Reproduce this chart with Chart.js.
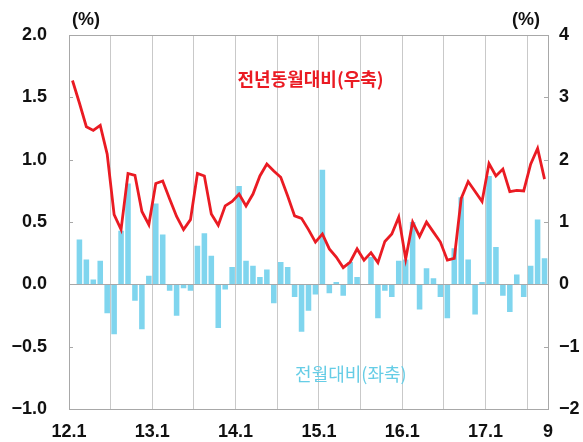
<!DOCTYPE html>
<html>
<head>
<meta charset="utf-8">
<script src="https://cdn.jsdelivr.net/npm/chart.js@4.4.1/dist/chart.umd.min.js"></script>
<style>
    body { margin: 0; background: #fff; }
    #wrap { position: relative; width: 583px; height: 442px; }
</style>
</head>
<body>
<div id="wrap"><canvas id="graphCanvas"></canvas></div>
<script>
var months = [
    '12.1', '12.2', '12.3', '12.4', '12.5', '12.6', '12.7', '12.8', '12.9', '12.10', '12.11', '12.12',
    '13.1', '13.2', '13.3', '13.4', '13.5', '13.6', '13.7', '13.8', '13.9', '13.10', '13.11', '13.12',
    '14.1', '14.2', '14.3', '14.4', '14.5', '14.6', '14.7', '14.8', '14.9', '14.10', '14.11', '14.12',
    '15.1', '15.2', '15.3', '15.4', '15.5', '15.6', '15.7', '15.8', '15.9', '15.10', '15.11', '15.12',
    '16.1', '16.2', '16.3', '16.4', '16.5', '16.6', '16.7', '16.8', '16.9', '16.10', '16.11', '16.12',
    '17.1', '17.2', '17.3', '17.4', '17.5', '17.6', '17.7', '17.8', '17.9'
];

// 전월대비 (좌축, %)
var momChange = [
    0.00, 0.36, 0.20, 0.04, 0.19, -0.23, -0.40, 0.43, 0.81, -0.13, -0.36, 0.07,
    0.65, 0.40, -0.05, -0.25, -0.03, -0.05, 0.31, 0.41, 0.23, -0.35, -0.04, 0.14,
    0.79, 0.19, 0.15, 0.06, 0.12, -0.15, 0.18, 0.14, -0.10, -0.38, -0.21, -0.08,
    0.92, -0.07, 0.02, -0.09, 0.18, 0.06, 0.00, 0.22, -0.27, -0.05, -0.10, 0.19,
    0.20, 0.50, -0.20, 0.13, 0.05, -0.10, -0.27, 0.29, 0.70, 0.20, -0.24, 0.02,
    0.87, 0.30, -0.09, -0.22, 0.08, -0.10, 0.15, 0.52, 0.21
];

// 전년동월대비 (우축, %)
var yoyChange = [
    3.27, 2.91, 2.53, 2.47, 2.55, 2.09, 1.12, 0.88, 1.78, 1.75, 1.17, 0.96,
    1.62, 1.66, 1.37, 1.09, 0.88, 1.04, 1.78, 1.74, 1.13, 0.95, 1.26, 1.33,
    1.45, 1.26, 1.45, 1.74, 1.93, 1.82, 1.72, 1.42, 1.10, 1.06, 0.88, 0.68,
    0.81, 0.57, 0.44, 0.27, 0.36, 0.57, 0.39, 0.51, 0.35, 0.69, 0.81, 1.08,
    0.41, 1.00, 0.77, 1.00, 0.84, 0.68, 0.39, 0.42, 1.38, 1.65, 1.49, 1.33,
    1.94, 1.74, 1.85, 1.49, 1.51, 1.50, 1.93, 2.18, 1.69
];

var xTickPos = [0, 12, 24, 36, 48, 60, 69];
var xTickText = ['12.1', '13.1', '14.1', '15.1', '16.1', '17.1', '9'];

var gridGray = '#c9c9c9';
var axisGray = '#a8a8a8';
var tickFont = { family: '"Liberation Sans", Arial, sans-serif', size: 18, weight: 'bold' };

function fmtMinus(s) {
    return String(s).replace('-', '\u2212');
}

var textPlugin = {
    id: 'chartTexts',
    afterDraw: function (chart) {
        var ctx = chart.ctx;
        var area = chart.chartArea;
        var x = chart.scales.x;
        var y = chart.scales.y;
        var y1 = chart.scales.y1;
        ctx.save();

        // small inner tick marks on both value axes
        ctx.strokeStyle = axisGray;
        ctx.lineWidth = 1;
        ctx.beginPath();
        y.ticks.forEach(function (t) {
            var py = Math.round(y.getPixelForValue(t.value)) + 0.5;
            ctx.moveTo(area.left, py);
            ctx.lineTo(area.left + 4, py);
        });
        y1.ticks.forEach(function (t) {
            var py = Math.round(y1.getPixelForValue(t.value)) + 0.5;
            ctx.moveTo(area.right, py);
            ctx.lineTo(area.right - 4, py);
        });
        ctx.stroke();

        ctx.textBaseline = 'middle';
        ctx.fillStyle = '#111';
        ctx.font = 'bold 18px "Liberation Sans", Arial, sans-serif';
        ctx.textAlign = 'left';
        ctx.fillText('(%)', area.left + 3, 20);
        ctx.textAlign = 'right';
        ctx.fillText('(%)', area.right - 8, 20);

        ctx.textAlign = 'center';
        ctx.font = 'bold 18px "Noto Sans CJK KR", sans-serif';
        ctx.fillStyle = '#ea1b23';
        ctx.fillText('전년동월대비(우축)', x.getPixelForValue(34.3), y1.getPixelForValue(3.3));
        ctx.font = '18px "Noto Sans CJK KR", sans-serif';
        ctx.fillStyle = '#66cde6';
        ctx.fillText('전월대비(좌축)', x.getPixelForValue(40.1), y.getPixelForValue(-0.72));
        ctx.restore();
    }
};

function showGraph() {
    var graphTarget = document.getElementById('graphCanvas');

    var chartdata = {
        labels: months,
        datasets: [
            {
                type: 'line',
                label: '전년동월대비(우축)',
                data: yoyChange,
                yAxisID: 'y1',
                borderColor: '#ea1b23',
                borderWidth: 2.8,
                pointRadius: 0,
                tension: 0,
                fill: false
            },
            {
                type: 'bar',
                label: '전월대비(좌축)',
                data: momChange,
                yAxisID: 'y',
                backgroundColor: '#7fd5ee',
                borderWidth: 0,
                barPercentage: 0.8,
                categoryPercentage: 1.0
            }
        ]
    };

    new Chart(graphTarget, {
        type: 'bar',
        data: chartdata,
        plugins: [textPlugin],
        options: {
            responsive: true,
            maintainAspectRatio: false,
            animation: false,
            layout: { padding: { top: 35, left: 0, right: 0, bottom: 0 } },
            plugins: {
                legend: { display: false },
                tooltip: { enabled: false }
            },
            scales: {
                x: {
                    type: 'category',
                    offset: true,
                    border: { display: true, color: axisGray },
                    grid: {
                        offset: true,
                        drawTicks: false,
                        color: function (c) {
                            return c.index % 6 === 0 ? gridGray : 'rgba(0,0,0,0)';
                        }
                    },
                    ticks: { display: false, autoSkip: false },
                    afterFit: function (s) { s.height = 0; }
                },
                x2: {
                    type: 'linear',
                    position: 'bottom',
                    offset: false,
                    min: 0,
                    max: 69,
                    border: { display: false },
                    grid: { display: false, drawTicks: false, offset: false },
                    afterBuildTicks: function (s) {
                        s.ticks = xTickPos.map(function (v) { return { value: v }; });
                    },
                    ticks: {
                        autoSkip: false,
                        maxRotation: 0,
                        padding: 12,
                        color: '#111',
                        font: tickFont,
                        callback: function (v) {
                            return xTickText[xTickPos.indexOf(v)];
                        }
                    },
                    afterFit: function (s) { s.height = 30.5; }
                },
                y: {
                    position: 'left',
                    min: -1,
                    max: 2,
                    border: { display: true, color: axisGray },
                    grid: {
                        drawTicks: false,
                        color: function (c) {
                            var v = c.tick ? c.tick.value : null;
                            return (v === 0 || v === 2) ? axisGray : 'rgba(0,0,0,0)';
                        }
                    },
                    ticks: {
                        stepSize: 0.5,
                        padding: 22,
                        color: '#111',
                        font: tickFont,
                        callback: function (v) { return fmtMinus(v.toFixed(1)); }
                    },
                    afterFit: function (s) { s.width = 69; }
                },
                y1: {
                    position: 'right',
                    min: -2,
                    max: 4,
                    border: { display: true, color: axisGray },
                    grid: { drawOnChartArea: false, drawTicks: false },
                    ticks: {
                        stepSize: 1,
                        padding: 11,
                        color: '#111',
                        font: tickFont,
                        callback: function (v) { return fmtMinus(v); }
                    },
                    afterFit: function (s) { s.width = 35; }
                }
            }
        }
    });
}

showGraph();
</script>
</body>
</html>
